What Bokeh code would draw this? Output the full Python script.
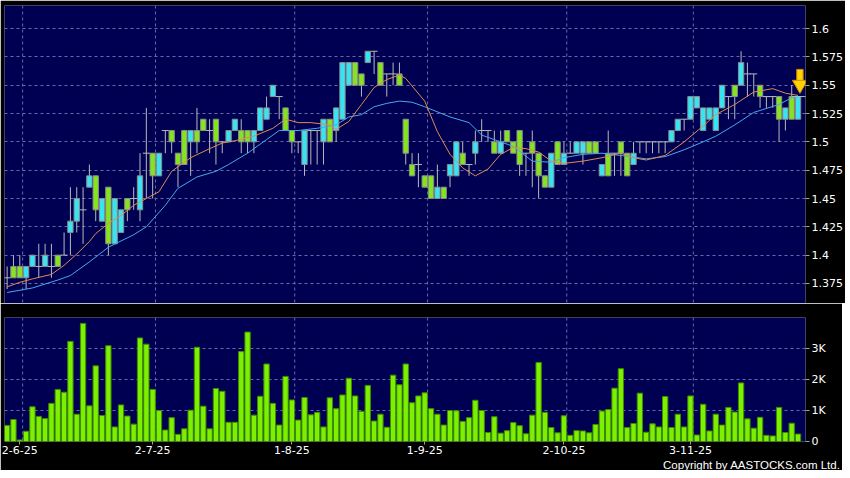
from bokeh.plotting import figure
from bokeh.layouts import column
from bokeh.models import Range1d, FixedTicker, ColumnDataSource, Span, Title
from bokeh.embed import file_html
from bokeh.resources import INLINE

# ---------------- data ----------------
date_tick_idx = [2, 23, 45, 66, 88, 108]
date_tick_labels = ["2-6-25", "2-7-25", "1-8-25", "1-9-25", "2-10-25", "3-11-25"]

price_ticks = [1.375, 1.4, 1.425, 1.45, 1.475, 1.5, 1.525, 1.55, 1.575, 1.6]
price_tick_labels = ["1.375", "1.4", "1.425", "1.45", "1.475", "1.5", "1.525", "1.55", "1.575", "1.6"]

vol_ticks = [0, 1000, 2000, 3000]
vol_tick_labels = ["0", "1K", "2K", "3K"]

opens = [1.38, 1.39, 1.39, 1.38, 1.39, 1.39, 1.39, 1.39, 1.40, 1.40,
         1.42, 1.43, 1.44, 1.46, 1.47, 1.43, 1.46, 1.41, 1.42, 1.45,
         1.45, 1.44, 1.49, 1.49, 1.47, 1.51, 1.51, 1.49, 1.51, 1.50,
         1.51, 1.52, 1.51, 1.52, 1.50, 1.50, 1.51, 1.51, 1.51, 1.50,
         1.51, 1.52, 1.54, 1.54, 1.53, 1.51, 1.50, 1.48, 1.51, 1.51,
         1.50, 1.52, 1.51, 1.52, 1.55, 1.57, 1.56, 1.57, 1.58, 1.57,
         1.56, 1.56, 1.56, 1.52, 1.48, 1.48, 1.47, 1.47, 1.45, 1.46,
         1.47, 1.47, 1.49, 1.48, 1.49, 1.51, 1.51, 1.50, 1.49, 1.51,
         1.50, 1.51, 1.49, 1.50, 1.49, 1.47, 1.46, 1.50, 1.48, 1.49,
         1.49, 1.49, 1.50, 1.50, 1.47, 1.49, 1.49, 1.50, 1.49, 1.48,
         1.50, 1.50, 1.50, 1.50, 1.50, 1.50, 1.51, 1.52, 1.52, 1.53,
         1.51, 1.52, 1.51, 1.53, 1.54, 1.55, 1.55, 1.56, 1.56, 1.55,
         1.54, 1.54, 1.54, 1.52, 1.54, 1.52]
closes = [1.38, 1.38, 1.38, 1.39, 1.40, 1.39, 1.40, 1.39, 1.39, 1.40,
          1.43, 1.45, 1.44, 1.47, 1.44, 1.45, 1.41, 1.45, 1.44, 1.44,
          1.45, 1.47, 1.49, 1.47, 1.49, 1.51, 1.50, 1.48, 1.48, 1.51,
          1.50, 1.51, 1.51, 1.50, 1.50, 1.51, 1.52, 1.50, 1.50, 1.51,
          1.53, 1.53, 1.55, 1.54, 1.51, 1.50, 1.50, 1.51, 1.51, 1.51,
          1.52, 1.50, 1.53, 1.57, 1.57, 1.55, 1.55, 1.58, 1.58, 1.55,
          1.56, 1.56, 1.55, 1.49, 1.47, 1.48, 1.46, 1.45, 1.46, 1.45,
          1.48, 1.50, 1.48, 1.48, 1.50, 1.51, 1.51, 1.49, 1.50, 1.50,
          1.49, 1.48, 1.49, 1.49, 1.47, 1.46, 1.49, 1.48, 1.49, 1.49,
          1.50, 1.50, 1.49, 1.49, 1.48, 1.47, 1.49, 1.49, 1.47, 1.49,
          1.50, 1.50, 1.50, 1.50, 1.50, 1.51, 1.52, 1.52, 1.54, 1.54,
          1.53, 1.53, 1.53, 1.55, 1.54, 1.54, 1.57, 1.56, 1.56, 1.54,
          1.54, 1.54, 1.52, 1.53, 1.52, 1.54]
highs = [1.39, 1.40, 1.40, 1.39, 1.40, 1.41, 1.41, 1.41, 1.40, 1.42,
         1.46, 1.46, 1.46, 1.48, 1.47, 1.45, 1.46, 1.45, 1.44, 1.45,
         1.46, 1.49, 1.53, 1.49, 1.49, 1.51, 1.51, 1.49, 1.51, 1.51,
         1.53, 1.52, 1.52, 1.52, 1.50, 1.51, 1.52, 1.52, 1.51, 1.51,
         1.53, 1.54, 1.55, 1.54, 1.53, 1.51, 1.50, 1.51, 1.51, 1.51,
         1.52, 1.52, 1.53, 1.57, 1.57, 1.57, 1.56, 1.58, 1.58, 1.57,
         1.56, 1.57, 1.57, 1.52, 1.49, 1.49, 1.47, 1.47, 1.48, 1.46,
         1.48, 1.50, 1.50, 1.48, 1.51, 1.52, 1.51, 1.51, 1.51, 1.51,
         1.50, 1.51, 1.49, 1.51, 1.49, 1.47, 1.49, 1.50, 1.50, 1.50,
         1.50, 1.50, 1.50, 1.50, 1.48, 1.51, 1.49, 1.50, 1.49, 1.50,
         1.50, 1.50, 1.50, 1.50, 1.50, 1.51, 1.52, 1.52, 1.54, 1.54,
         1.53, 1.53, 1.53, 1.55, 1.54, 1.55, 1.58, 1.57, 1.56, 1.55,
         1.54, 1.54, 1.54, 1.53, 1.55, 1.54]
lows = [1.37, 1.38, 1.38, 1.37, 1.39, 1.38, 1.39, 1.38, 1.39, 1.40,
        1.40, 1.42, 1.41, 1.46, 1.43, 1.43, 1.40, 1.41, 1.42, 1.43,
        1.44, 1.43, 1.45, 1.45, 1.47, 1.49, 1.49, 1.46, 1.48, 1.47,
        1.49, 1.51, 1.49, 1.48, 1.49, 1.50, 1.51, 1.49, 1.49, 1.49,
        1.51, 1.52, 1.54, 1.52, 1.51, 1.49, 1.49, 1.47, 1.48, 1.48,
        1.48, 1.50, 1.50, 1.52, 1.55, 1.55, 1.54, 1.57, 1.56, 1.55,
        1.54, 1.55, 1.55, 1.48, 1.47, 1.46, 1.46, 1.45, 1.45, 1.45,
        1.46, 1.47, 1.48, 1.47, 1.48, 1.50, 1.50, 1.49, 1.49, 1.50,
        1.49, 1.47, 1.47, 1.46, 1.45, 1.46, 1.46, 1.48, 1.48, 1.49,
        1.49, 1.48, 1.49, 1.49, 1.47, 1.47, 1.47, 1.47, 1.47, 1.48,
        1.49, 1.49, 1.49, 1.49, 1.49, 1.50, 1.51, 1.51, 1.52, 1.53,
        1.51, 1.52, 1.51, 1.53, 1.52, 1.52, 1.55, 1.54, 1.54, 1.53,
        1.53, 1.53, 1.50, 1.51, 1.52, 1.52]
volumes_k = [0.52, 0.71, 0.05, 0.33, 1.12, 0.81, 0.74, 1.23, 1.68, 1.59,
             3.23, 0.88, 3.81, 1.15, 2.44, 0.84, 3.09, 0.47, 1.18, 0.82,
             0.56, 3.34, 3.14, 1.68, 1.00, 0.37, 0.77, 0.23, 0.41, 1.01,
             3.04, 1.14, 0.41, 1.71, 1.62, 0.62, 0.62, 2.90, 3.53, 0.85,
             1.46, 2.50, 1.23, 0.53, 2.10, 1.34, 0.69, 1.42, 0.86, 0.94,
             0.47, 1.41, 1.06, 1.50, 2.04, 1.47, 0.97, 1.81, 0.66, 0.88,
             0.46, 2.14, 1.83, 2.50, 1.25, 1.47, 1.57, 1.06, 0.88, 0.53,
             1.00, 0.99, 0.65, 0.77, 1.33, 1.00, 0.29, 0.80, 0.27, 0.35,
             0.61, 0.51, 0.25, 0.85, 2.55, 0.94, 0.45, 0.28, 0.83, 0.20,
             0.35, 0.34, 0.28, 0.55, 0.98, 1.03, 1.72, 2.35, 0.45, 0.58,
             1.56, 0.30, 0.57, 0.47, 1.45, 0.45, 0.88, 0.47, 1.47, 0.21,
             1.20, 0.34, 0.88, 0.53, 1.10, 0.95, 1.89, 0.73, 0.43, 0.78,
             0.20, 0.18, 1.10, 0.29, 0.59, 0.24]

ma10_idx = [0, 2, 4, 7, 9, 11, 13, 14, 16, 18, 20, 22, 24, 26, 29, 32, 34, 36, 39, 42,
            44, 46, 48, 51, 52, 54, 56, 58, 60, 62, 63, 66, 68, 70, 72, 74, 76, 78, 80, 82,
            84, 86, 88, 91, 94, 97, 99, 101, 104, 107, 110, 112, 115, 118, 121, 123, 125]
ma10 = [1.372, 1.376, 1.379, 1.383, 1.391, 1.401, 1.412, 1.419, 1.428, 1.435, 1.444, 1.450,
        1.456, 1.474, 1.486, 1.494, 1.499, 1.501, 1.505, 1.512, 1.520, 1.517, 1.517, 1.515,
        1.511, 1.518, 1.533, 1.548, 1.555, 1.559, 1.556, 1.536, 1.509, 1.489, 1.477, 1.470,
        1.476, 1.489, 1.495, 1.494, 1.491, 1.483, 1.481, 1.483, 1.486, 1.490, 1.486, 1.484,
        1.488, 1.500, 1.514, 1.524, 1.533, 1.544, 1.547, 1.543, 1.541]

ma20_idx = [0, 4, 8, 10, 13, 16, 20, 22, 25, 27, 30, 33, 35, 38, 41, 43, 46, 49, 52, 54,
            56, 58, 60, 62, 64, 66, 70, 73, 75, 78, 80, 83, 86, 88, 91, 94, 97, 101, 104, 107,
            110, 112, 115, 118, 122, 124, 125]
ma20 = [1.367, 1.371, 1.378, 1.382, 1.394, 1.407, 1.418, 1.425, 1.444, 1.459, 1.469, 1.474,
        1.480, 1.490, 1.502, 1.510, 1.510, 1.512, 1.515, 1.522, 1.524, 1.531, 1.534, 1.536,
        1.535, 1.531, 1.522, 1.517, 1.506, 1.500, 1.496, 1.483, 1.482, 1.486, 1.489, 1.490,
        1.488, 1.485, 1.487, 1.493, 1.500, 1.505, 1.515, 1.526, 1.533, 1.539, 1.540]

# ---------------- styling ----------------
BG = "#000052"
GRID = "#6a6aa8"
UP = "#38e4f2"
DOWN = "#84e41e"
BODY_LINE = "#8c8c8c"
WICK = "#b8b8b8"
LABEL = "#ffffff"
FONT = "DejaVu Sans"

n = len(opens)
idx = list(range(n))
body_top = [max(o, c) for o, c in zip(opens, closes)]
body_bot = [min(o, c) for o, c in zip(opens, closes)]
colors = [UP if c > o else DOWN for o, c in zip(opens, closes)]
is_body = [c != o for o, c in zip(opens, closes)]

src = ColumnDataSource(dict(x=idx, h=highs, l=lows))
body_src = ColumnDataSource(dict(
    x=[i for i, b in zip(idx, is_body) if b],
    top=[t for t, b in zip(body_top, is_body) if b],
    bot=[t for t, b in zip(body_bot, is_body) if b],
    color=[t for t, b in zip(colors, is_body) if b]))
doji_src = ColumnDataSource(dict(
    x=[i for i, b in zip(idx, is_body) if not b],
    y=[o for o, b in zip(opens, is_body) if not b]))

FW = 801
x_range = Range1d(-0.417, 126.18)


def style_axis(ax):
    ax.axis_line_color = None
    ax.major_tick_line_color = "#a0a0a0"
    ax.major_tick_in = 0
    ax.major_tick_out = 4
    ax.minor_tick_line_color = None
    ax.major_label_text_color = LABEL
    ax.major_label_text_font = FONT
    ax.major_label_text_font_size = "11px"
    ax.major_label_standoff = 2


# ---------------- price panel ----------------
p = figure(frame_width=FW, frame_height=298, x_range=x_range,
           y_range=Range1d(1.3573, 1.6204),
           output_backend="svg", toolbar_location=None,
           background_fill_color=BG, border_fill_color="black",
           outline_line_color=None, min_border_left=4, min_border_top=5,
           min_border_bottom=0, min_border_right=37,
           y_axis_location="right", x_axis_location=None)
p.yaxis.ticker = FixedTicker(ticks=price_ticks)
p.yaxis.major_label_overrides = {t: s for t, s in zip(price_ticks, price_tick_labels)}
style_axis(p.yaxis[0])
p.xgrid.visible = False
p.ygrid.ticker = FixedTicker(ticks=price_ticks)
p.ygrid.grid_line_color = GRID
p.ygrid.grid_line_dash = "3 3"
p.ygrid.grid_line_width = 1

for t in date_tick_idx:
    p.add_layout(Span(location=t + 0.45, dimension="height", line_color=GRID,
                      line_dash="3 3", line_width=1, level="underlay"))

p.segment(x0="x", y0="h", x1="x", y1="l", source=src, line_color=WICK, line_width=1)
p.vbar(x="x", top="top", bottom="bot", width=0.84, source=body_src,
       fill_color="color", line_color=BODY_LINE, line_width=1)
p.scatter(x="x", y="y", source=doji_src, marker="dash", size=7,
          line_color=WICK, line_width=1)

p.line(ma20_idx, ma20, line_color="#46a8ee", line_width=1)
p.line(ma10_idx, ma10, line_color="#e08a52", line_width=1)

# last close marker and arrow
p.ray(x=[idx[-2]], y=[closes[-1]], length=0, angle=0, line_color=WICK, line_width=1)
p.vbar(x=[idx[-1] + 0.3], top=[closes[-1] + 0.024], bottom=[closes[-1] + 0.012], width=1.0,
       fill_color="#ffd400", line_color="#d88a00", line_width=1)
p.scatter(x=[idx[-1] + 0.3], y=[closes[-1] + 0.0105], marker="inverted_triangle", size=15,
          fill_color="#ffd400", line_color="#d88a00", line_width=1)

# ---------------- volume panel ----------------
vols = [v * 1000 for v in volumes_k]
v = figure(frame_width=FW, frame_height=124, x_range=x_range,
           y_range=Range1d(0, 4000),
           output_backend="svg", toolbar_location=None,
           background_fill_color=BG, border_fill_color="black",
           outline_line_color=None, min_border_left=4, min_border_top=14,
           min_border_bottom=0, min_border_right=37,
           y_axis_location="right", x_axis_location="below")
v.yaxis.ticker = FixedTicker(ticks=vol_ticks)
v.yaxis.major_label_overrides = {t: s for t, s in zip(vol_ticks, vol_tick_labels)}
style_axis(v.yaxis[0])
v.xaxis.ticker = FixedTicker(ticks=date_tick_idx)
v.xaxis.major_label_overrides = {t: s for t, s in zip(date_tick_idx, date_tick_labels)}
style_axis(v.xaxis[0])
v.xaxis.major_tick_out = 3
v.xaxis.major_label_standoff = 1
v.xgrid.visible = False
v.ygrid.ticker = FixedTicker(ticks=vol_ticks[1:])
v.ygrid.grid_line_color = GRID
v.ygrid.grid_line_dash = "3 3"
for t in date_tick_idx:
    v.add_layout(Span(location=t + 0.45, dimension="height", line_color=GRID,
                      line_dash="3 3", line_width=1, level="underlay"))

v.vbar(x=idx, top=vols, bottom=0, width=0.84, fill_color="#7cf000",
       line_color="#3e8c00", line_width=1)

v.add_layout(Title(text="Copyright by AASTOCKS.com Ltd.", align="right",
                   text_color=LABEL, text_font="Liberation Sans",
                   text_font_size="11.5px", text_font_style="normal",
                   standoff=0, offset=-35), "below")

layout = column(p, v, spacing=0)
open("out.html", "w").write(file_html(layout, INLINE))
